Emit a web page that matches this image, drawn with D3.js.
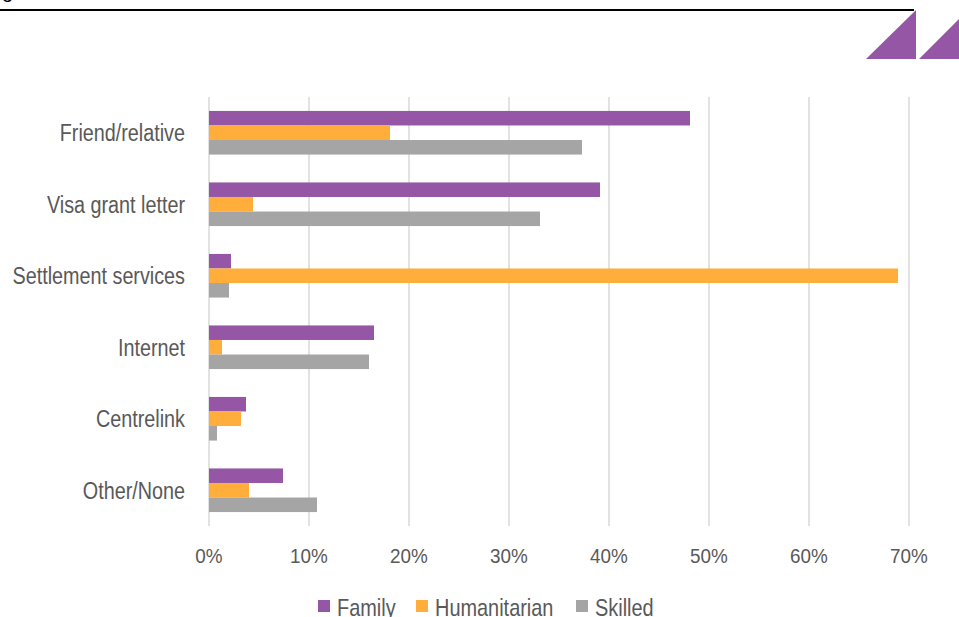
<!DOCTYPE html>
<html>
<head>
<meta charset="utf-8">
<script src="https://cdn.jsdelivr.net/npm/d3@7"></script>
<style>
  html, body { margin: 0; padding: 0; background: #ffffff; }
  svg { display: block; font-family: "Liberation Sans", Arial, sans-serif; }
</style>
</head>
<body>
<svg id="chart" width="959" height="617"></svg>
<script>
// Information sources by visa stream
const categories = ["Friend/relative", "Visa grant letter", "Settlement services", "Internet", "Centrelink", "Other/None"];
const seriesNames = ["Family", "Humanitarian", "Skilled"];
const familyValues = [48.1, 39.1, 2.2, 16.5, 3.7, 7.4];
const humanitarianValues = [18.1, 4.4, 68.9, 1.3, 3.2, 4.0];
const skilledValues = [37.3, 33.1, 2.0, 16.0, 0.8, 10.8];
const tickValues = [0, 10, 20, 30, 40, 50, 60, 70];
const seriesColors = ["#9656a6", "#ffad3b", "#a5a5a5"];

const seriesValues = [familyValues, humanitarianValues, skilledValues];
const rows = categories.map((c, i) => ({
  category: c,
  values: seriesNames.map((s, j) => ({ series: s, value: seriesValues[j][i] }))
}));

const svg = d3.select("#chart");
const textColor = "#595959";

// Header rule, cropped heading glyph and corner mark
svg.append("text").attr("x", 2).attr("y", -2).attr("font-size", 20).attr("fill", "#000").text("g");
svg.append("line").attr("x1", 0).attr("x2", 914).attr("y1", 10).attr("y2", 10)
  .attr("stroke", "#000").attr("stroke-width", 2);
const logo = svg.append("g").attr("fill", "#9656a6");
logo.append("path").attr("d", "M866,59 L916,10 L916,59 Z");
logo.append("path").attr("d", "M919,59 L968,10 L968,59 Z");

const x = d3.scaleLinear().domain([0, 70]).range([209, 909]);
const y = d3.scaleBand().domain(categories).range([97, 526]).paddingInner(0.39).paddingOuter(0.195);
const inner = d3.scaleBand().domain(seriesNames).range([0, y.bandwidth()]);
const color = d3.scaleOrdinal().domain(seriesNames).range(seriesColors);

// Vertical gridlines
svg.append("g").selectAll("line").data(x.ticks(7)).join("line")
  .attr("x1", d => x(d)).attr("x2", d => x(d))
  .attr("y1", 97).attr("y2", 526)
  .attr("stroke", "#d9d9d9").attr("stroke-width", 1.5);

// Bars
svg.append("g").selectAll("g").data(rows).join("g")
  .attr("transform", d => `translate(0,${y(d.category)})`)
  .selectAll("rect").data(d => d.values).join("rect")
  .attr("x", x(0))
  .attr("y", d => inner(d.series))
  .attr("width", d => x(d.value) - x(0))
  .attr("height", inner.bandwidth())
  .attr("fill", d => color(d.series));

// Category labels (narrow lettering)
svg.append("g").selectAll("text").data(categories).join("text")
  .attr("transform", d => `translate(185,${y(d) + y.bandwidth() / 2 + 8.5}) scale(0.86,1)`)
  .attr("text-anchor", "end")
  .attr("font-size", 23)
  .attr("fill", textColor)
  .text(d => d);

// Value axis labels
svg.append("g").selectAll("text").data(tickValues).join("text")
  .attr("transform", d => `translate(${x(d)},563) scale(0.9,1)`)
  .attr("text-anchor", "middle")
  .attr("font-size", 21)
  .attr("fill", textColor)
  .text(d => d + "%");

// Legend
const legendX = [318, 416, 576];
const legend = svg.append("g").selectAll("g").data(seriesNames).join("g")
  .attr("transform", (d, i) => `translate(${legendX[i]},600)`);
legend.append("rect").attr("width", 12).attr("height", 12).attr("fill", d => color(d));
legend.append("text")
  .attr("transform", "translate(19,15.5) scale(0.83,1)")
  .attr("font-size", 24).attr("fill", textColor)
  .text(d => d);
</script>
</body>
</html>
